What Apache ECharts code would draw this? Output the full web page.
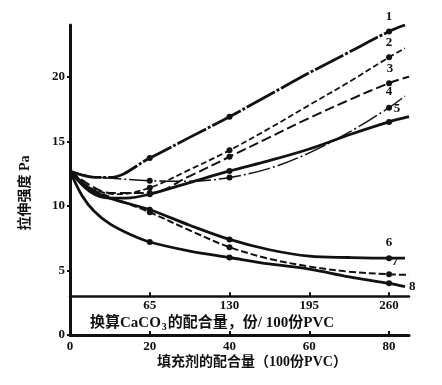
<!DOCTYPE html>
<html><head><meta charset="utf-8">
<script src="https://cdn.jsdelivr.net/npm/echarts@6/dist/echarts.min.js"></script>
<style>html,body{margin:0;padding:0;background:#fff}#c{width:442px;height:385px}</style>
</head><body><div id="c"></div>
<script>
const xTicksFiller = [0, 20, 40, 60, 80];
const xTicksCaCO3 = [65, 130, 195, 260];
const yTicks = [0, 5, 10, 15, 20];
const curveNames = ['1', '2', '3', '4', '5', '6', '7', '8'];
const curve1 = [[0,12.7],[5,12.25],[10,12.2],[20,13.7],[30,15.3],[40,16.9],[50,18.6],[60,20.3],[70,21.9],[80,23.5],[84,24.0]];
const curve2 = [[0,12.7],[5,11.4],[12,10.9],[20,11.4],[30,12.8],[40,14.3],[50,16.0],[60,17.8],[70,19.6],[80,21.5],[84,22.2]];
const curve3 = [[0,12.7],[5,11.6],[10,11.0],[20,11.0],[30,12.3],[40,13.8],[50,15.3],[60,16.8],[70,18.2],[80,19.5],[85,20.0]];
const curve4 = [[0,12.7],[5,12.3],[10,12.15],[20,11.95],[30,11.9],[40,12.2],[50,12.9],[60,14.1],[70,15.7],[80,17.6],[84,18.5]];
const curve5 = [[0,12.7],[5,11.1],[10,10.6],[14,10.6],[20,10.9],[30,11.8],[40,12.7],[50,13.5],[60,14.4],[70,15.5],[80,16.5],[85,16.9]];
const curve6 = [[0,12.7],[5,11.3],[10,10.6],[20,9.7],[30,8.5],[40,7.4],[50,6.6],[60,6.1],[70,6.0],[80,5.95],[84,5.95]];
const curve7 = [[0,12.7],[5,11.4],[10,10.7],[20,9.5],[30,8.1],[40,6.8],[50,5.9],[60,5.3],[70,4.9],[80,4.7],[85,4.65]];
const curve8 = [[0,12.7],[3,10.8],[6,9.6],[10,8.6],[15,7.8],[20,7.2],[30,6.5],[40,6.0],[50,5.5],[60,5.1],[70,4.5],[80,4.0],[84,3.75]];
const markerX = [20, 40, 80];

const curves = [curve1, curve2, curve3, curve4, curve5, curve6, curve7, curve8];
const FONT = '"Liberation Serif", "Noto Sans CJK SC", serif';
const INK = '#111';
const styles = [
  {w: 2.8, t: [32, 2, 3, 2]},
  {w: 1.8, t: [6, 3]},
  {w: 2.0, t: [10, 4]},
  {w: 1.5, t: [22, 3, 2, 3]},
  {w: 2.8, t: 'solid'},
  {w: 2.8, t: 'solid'},
  {w: 2.0, t: [7, 3]},
  {w: 2.8, t: 'solid'}
];
const labelCfg = [
  {pos: 'top', off: [0, -1]},
  {pos: 'top', off: [0, -1]},
  {pos: 'top', off: [1, -1]},
  {pos: 'top', off: [0, -3]},
  {pos: 'top', off: [8, 0]},
  {pos: 'top', off: [0, -2]},
  {pos: 'top', off: [6, 1]},
  {pos: 'right', off: [0, 0]}
];

const gridTop = 25, gridBottom = 50, gridLeft = 70, gridRight = 33;
const yMax = 24, xMax = 85;
const ratio = xTicksCaCO3[0] / xTicksFiller[1];
const plotH = 385 - gridTop - gridBottom;
const upperAxisAt = 3;

const series = curves.map((c, i) => {
  const labelIdx = i === 7 ? c.length - 1 : c.findIndex(p => p[0] === 80);
  return {
    type: 'line',
    smooth: 0.35,
    clip: false,
    symbol: 'circle',
    showSymbol: true,
    z: 3,
    lineStyle: {color: INK, width: styles[i].w, type: styles[i].t},
    itemStyle: {color: INK},
    data: c.map((p, j) => {
      const item = {value: p, symbolSize: markerX.includes(p[0]) ? 6 : 0};
      if (j === labelIdx) {
        item.label = {
          show: true, formatter: curveNames[i], position: labelCfg[i].pos,
          offset: labelCfg[i].off, distance: 4,
          color: INK, fontFamily: FONT, fontWeight: 'bold', fontSize: 13
        };
      }
      return item;
    })
  };
});

const chart = echarts.init(document.getElementById('c'), null, {renderer: 'canvas'});
const axisLabelBase = {color: INK, fontFamily: FONT, fontWeight: 'bold', fontSize: 13};
chart.setOption({
  animation: false,
  backgroundColor: '#fff',
  grid: {left: gridLeft, right: gridRight, top: gridTop, bottom: gridBottom},
  xAxis: [
    {
      type: 'value', min: 0, max: xMax, position: 'bottom',
      axisLine: {show: true, lineStyle: {color: INK, width: 3}},
      axisTick: {show: true, inside: true, length: 4, customValues: xTicksFiller, lineStyle: {color: INK, width: 2}},
      axisLabel: Object.assign({customValues: xTicksFiller, margin: 5}, axisLabelBase),
      splitLine: {show: false}
    },
    {
      type: 'value', min: 0, max: xMax * ratio, position: 'bottom',
      offset: -upperAxisAt * plotH / yMax,
      axisLine: {show: true, onZero: false, lineStyle: {color: INK, width: 2.5}},
      axisTick: {show: true, inside: true, length: 4, customValues: xTicksCaCO3, lineStyle: {color: INK, width: 2}},
      axisLabel: Object.assign({customValues: xTicksCaCO3, margin: 3}, axisLabelBase),
      splitLine: {show: false}
    }
  ],
  yAxis: {
    type: 'value', min: 0, max: yMax,
    axisLine: {show: true, lineStyle: {color: INK, width: 3}},
    axisTick: {show: true, length: 3, customValues: yTicks, lineStyle: {color: INK, width: 2}},
    axisLabel: Object.assign({customValues: yTicks, margin: 5}, axisLabelBase),
    splitLine: {show: false}
  },
  graphic: [
    {
      type: 'text', x: 25, y: 193, rotation: Math.PI / 2,
      style: {text: '拉伸强度 Pa', align: 'center', verticalAlign: 'middle',
        fill: INK, font: 'bold 14px ' + FONT}
    },
    {
      type: 'text', x: 90, y: 323,
      style: {
        text: '{a|换算CaCO}{b|3}{a|的配合量，份/ 100份PVC}',
        align: 'left', verticalAlign: 'middle',
        rich: {
          a: {fontSize: 15, fontWeight: 'bold', fontFamily: FONT, fill: INK, color: INK},
          b: {fontSize: 10, fontWeight: 'bold', fontFamily: FONT, fill: INK, color: INK, padding: [8, 1, 0, 1]}
        }
      }
    },
    {
      type: 'text', x: 252, y: 362,
      style: {text: '填充剂的配合量（100份PVC）', align: 'center', verticalAlign: 'middle',
        fill: INK, font: 'bold 14px ' + FONT}
    }
  ],
  series: series
});
</script>
</body></html>
